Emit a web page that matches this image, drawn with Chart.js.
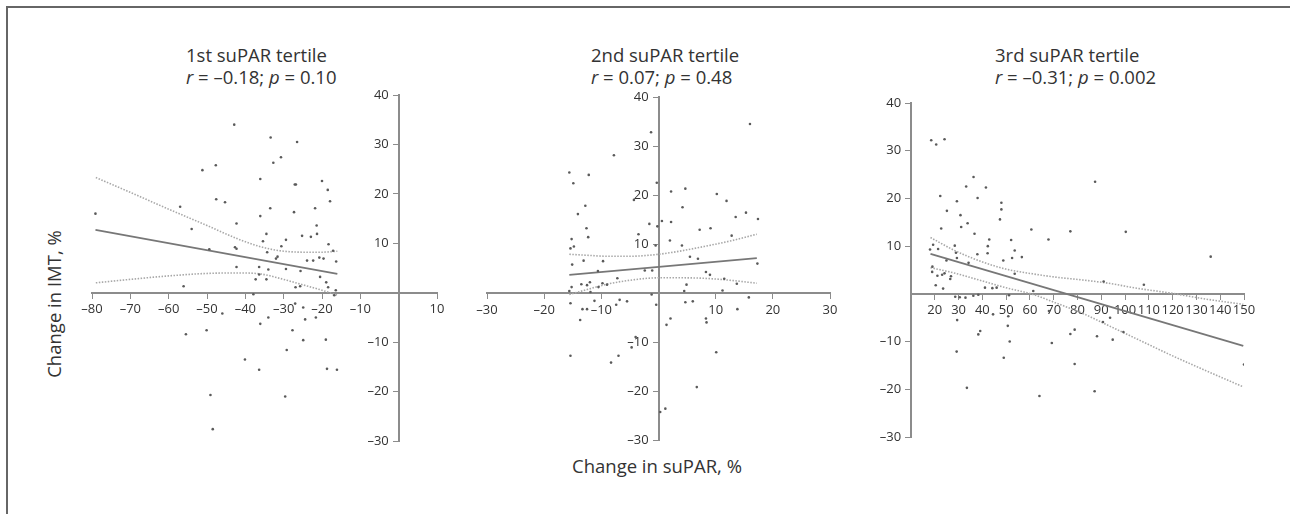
<!DOCTYPE html>
<html lang="en">
<head>
<meta charset="UTF-8">
<title>Change in IMT vs change in suPAR by tertile</title>
<script src="https://cdn.jsdelivr.net/npm/chart.js"></script>
<style>
  body { margin: 0; width: 1290px; height: 514px; background: #fff; position: relative; overflow: hidden;
         font-family: 'Open Sans', sans-serif; color: #333; }
  .frame { position: absolute; left: 6px; top: 6px; width: 1300px; height: 520px;
           border-left: 2px solid #666; border-top: 2px solid #666; }
  canvas { position: absolute; }
  .title { position: absolute; font-size: 18.5px; line-height: 22px; white-space: nowrap; }
  .ylab { position: absolute; left: 53px; top: 304px; font-size: 18.5px; white-space: nowrap;
          transform: translate(-50%, -50%) rotate(-90deg); }
  .xlab { position: absolute; left: 657px; top: 465px; font-size: 18.5px; white-space: nowrap;
          transform: translate(-50%, -50%); }
</style>
</head>
<body>
<div class="frame"></div>

<div class="title" style="left:186px; top:44px">1st suPAR tertile<br><i>r</i> = –0.18; <i>p</i> = 0.10</div>
<div class="title" style="left:591px; top:44px">2nd suPAR tertile<br><i>r</i> = 0.07; <i>p</i> = 0.48</div>
<div class="title" style="left:995px; top:44px">3rd suPAR tertile<br><i>r</i> = –0.31; <i>p</i> = 0.002</div>
<div class="ylab">Change in IMT, %</div>
<div class="xlab">Change in suPAR, %</div>

<canvas id="c1" width="440" height="375" style="left:20px; top:85px"></canvas>
<canvas id="c2" width="400" height="375" style="left:460px; top:85px"></canvas>
<canvas id="c3" width="420" height="375" style="left:860px; top:85px"></canvas>

<script>
  // 1st tertile: change in suPAR (x) and change in IMT (y), %
  const t1X = [-79.1, -42.9, -33.4, -26.5, -30.7, -32.7, -47.7, -51.2, -36.1, -27.1, -26.8, -20.0, -18.5, -17.9,
    -47.6, -45.3, -57.0, -33.5, -27.3, -21.8, -36.1, -42.3, -54.0, -34.5, -21.4, -21.3, -25.2, -22.9, -29.4,
    -35.4, -30.6, -18.3, -42.7, -42.3, -49.4, -34.3, -31.6, -32.0, -23.9, -22.3, -20.7, -19.6, -17.1, -16.3,
    -42.3, -36.4, -34.0, -29.4, -25.6, -20.5, -37.3, -34.5, -36.4, -56.1, -26.9, -25.7, -18.9, -18.4, -16.4,
    -37.9, -16.8, -46.0, -27.0, -24.9, -34.0, -24.4, -21.6, -36.1, -55.5, -50.1, -27.7, -24.9, -19.0, -29.2,
    -40.1, -36.4, -18.7, -16.1, -49.1, -29.6, -48.5];
  const t1Y = [16.0, 34.0, 31.4, 30.5, 27.4, 26.3, 25.8, 24.8, 23.0, 21.9, 21.9, 22.6, 20.8, 18.5,
    18.9, 18.3, 17.4, 17.1, 16.3, 17.1, 15.5, 14.0, 12.9, 11.9, 13.6, 11.9, 11.5, 11.3, 10.7,
    10.4, 9.4, 9.8, 9.2, 8.9, 8.8, 8.2, 7.3, 6.9, 6.5, 6.5, 7.1, 6.9, 8.5, 6.3,
    5.2, 5.2, 4.7, 4.8, 4.4, 3.2, 2.7, 2.7, 3.7, 1.3, 1.1, 1.3, 2.1, 1.1, 0.5,
    -0.3, -0.5, -4.2, -2.2, -3.0, -5.0, -5.4, -5.0, -6.3, -8.4, -7.6, -7.6, -9.6, -9.5, -11.6,
    -13.5, -15.6, -15.4, -15.6, -20.7, -21.0, -27.6];
  const t1FitX = [-79.1, -16];
  const t1Fit = [12.7, 3.8];
  const t1BandX = [-79, -70, -60, -50, -42, -36, -31, -25, -20, -16];
  const t1Upper = [23.3, 20.3, 16.9, 13.6, 10.9, 9.3, 8.5, 8.2, 8.2, 8.4];
  const t1Lower = [2.0, 2.7, 3.4, 3.9, 4.0, 3.8, 2.9, 1.6, 0.5, -0.5];

  // 2nd tertile
  const t2X = [16.0, -1.3, -7.8, -15.6, -12.2, -14.9, -0.3, 4.7, 2.2, 10.2, 11.9, -4.3, -12.8, 4.2, -14.1,
    15.3, 17.4, 13.5, 0.6, 2.2, -1.6, -0.2, -12.6, 7.2, 9.1, -3.5, 12.8, -15.2, -12.3, 2.0, -15.4, -14.8,
    4.1, -0.5, -13.1, -9.7, -15.1, 5.5, 6.9, 17.3, -10.6, -2.4, -1.1, 8.3, 9.0, -7.2, 11.5, 4.9, 13.7,
    -15.2, -13.5, -12.5, -12.0, -9.8, -10.5, -9.0, -15.6, 4.5, 11.2, -11.9, -1.2, -15.4, -11.2, -6.8, -5.5,
    -7.4, -0.4, 4.7, 6.0, 15.8, -13.3, -12.5, 13.8, -13.7, 2.1, 1.4, 8.3, 8.4, -4.0, -4.7, -15.4, -7.0,
    -8.3, 10.1, 6.7, 1.2, 0.3];
  const t2Y = [34.5, 32.8, 28.1, 24.6, 24.1, 22.4, 22.5, 21.3, 20.7, 20.2, 18.8, 19.0, 17.8, 17.5, 16.1,
    16.4, 15.1, 15.5, 14.7, 14.5, 14.1, 13.6, 13.2, 12.9, 13.2, 12.0, 11.7, 11.0, 11.4, 10.7, 9.1, 9.5,
    9.7, 9.7, 6.6, 6.5, 5.8, 7.4, 7.0, 6.0, 4.5, 4.6, 4.6, 4.3, 3.7, 3.0, 2.9, 1.7, 1.9,
    1.2, 1.8, 1.6, 2.2, 2.0, 1.2, 1.7, 0.4, 0.4, 0.5, 0.2, -0.3, -2.1, -1.6, -1.4, -1.7,
    -2.4, -2.4, -1.9, -1.7, -0.9, -3.3, -3.3, -3.3, -5.5, -5.2, -6.5, -5.2, -6.0, -9.0, -11.1, -12.8, -12.8,
    -14.2, -12.1, -19.2, -23.6, -24.3];
  const t2FitX = [-15.6, 17.2];
  const t2Fit = [3.7, 7.1];
  const t2BandX = [-15.6, -12.5, -9, -5, 0, 4, 8, 12.5, 17.2];
  const t2Upper = [7.9, 7.7, 7.5, 7.5, 7.9, 8.6, 9.5, 10.6, 12.0];
  const t2Lower = [-0.3, 0.7, 1.8, 2.6, 3.1, 3.1, 3.0, 2.6, 2.0];

  // 3rd tertile
  const t3X = [18.5, 20.6, 24.1, 36.3, 87.4, 33.2, 41.5, 22.3, 38.0, 48.0, 29.3, 48.0, 25.1, 30.8, 47.4,
    33.8, 31.1, 22.7, 60.6, 77.0, 100.3, 36.7, 42.9, 52.1, 67.8, 18.0, 19.3, 28.4, 42.3, 21.4, 28.9, 37.9,
    42.2, 53.6, 56.6, 52.5, 48.8, 29.3, 136.0, 24.9, 34.2, 19.0, 18.9, 21.1, 23.1, 24.1, 26.8, 26.5, 53.6,
    20.4, 23.5, 41.1, 44.2, 46.0, 91.0, 107.9, 61.4, 28.6, 30.5, 32.9, 38.3, 36.2, 51.2, 44.5, 50.9, 29.4,
    93.7, 90.7, 39.1, 38.3, 78.8, 77.0, 69.2, 51.5, 88.2, 94.8, 50.7, 29.2, 49.0, 78.8, 150.0, 33.5, 64.0,
    87.2, 68.0, 99.3];
  const t3Y = [32.2, 31.3, 32.4, 24.5, 23.5, 22.5, 22.3, 20.5, 20.1, 19.1, 19.4, 17.7, 17.4, 16.5, 15.6,
    14.8, 14.0, 13.7, 13.5, 13.1, 13.0, 12.6, 11.4, 11.3, 11.4, 9.3, 10.3, 10.1, 10.0, 9.4, 8.6, 8.3,
    8.5, 9.1, 7.7, 7.5, 7.0, 7.5, 7.8, 7.0, 6.5, 5.7, 4.6, 3.8, 4.0, 4.3, 3.7, 3.1, 4.2,
    1.8, 1.1, 1.3, 1.2, 1.3, 2.6, 1.9, 0.6, -0.6, -0.7, -0.8, -0.2, -0.4, -0.3, -4.3, -4.7, -5.5,
    -5.0, -5.9, -7.8, -8.5, -7.5, -8.4, -10.3, -10.0, -8.9, -9.6, -6.7, -12.1, -13.4, -14.7, -14.8, -19.7, -21.4,
    -20.4, -3.6, -8.0];
  const t3FitX = [18.2, 149.7];
  const t3Fit = [8.4, -10.9];
  const t3BandX = [18.2, 28.7, 40, 49.8, 61.1, 70.9, 82.2, 92, 106, 120, 134, 149.7];
  const t3Upper = [11.8, 9.0, 6.7, 5.2, 4.2, 3.5, 2.9, 2.3, 1.1, 0.1, -1.1, -2.2];
  const t3Lower = [5.5, 4.3, 2.7, 1.3, -0.1, -1.9, -4.1, -6.4, -9.7, -13.0, -16.1, -19.5];

  // axis ranges (x min/max, y min/max)
  const t1XRange = [-80, 10];
  const t2XRange = [-30, 30];
  const t3XRange = [10, 150];
  const yRange = [-30, 40];

  Chart.defaults.font.family = "'Open Sans', sans-serif";
  Chart.defaults.color = '#333';

  const axisGrey = '#8c8c8c';
  const pts = (xs, ys) => xs.map((x, i) => ({ x: x, y: ys[i] }));
  const fmt = v => v < 0 ? '–' + Math.abs(v) : String(v);
  // centred y axes draw their labels flush with the axis line, so pad them with a gap
  const yGap = '\u2002 ';

  function panel(id, o) {
    const band = {
      showLine: true, borderColor: '#a8a8a8', borderWidth: 1.6, borderDash: [1.5, 1.5],
      pointRadius: 0, cubicInterpolationMode: 'monotone'
    };
    new Chart(document.getElementById(id), {
      type: 'scatter',
      data: {
        datasets: [
          { data: pts(o.x, o.y), pointRadius: 1.3, backgroundColor: '#5a5a5a', borderWidth: 0 },
          { data: pts(o.fitX, o.fit), showLine: true, borderColor: '#777', borderWidth: 1.8, pointRadius: 0 },
          Object.assign({ data: pts(o.bandX, o.upper) }, band),
          Object.assign({ data: pts(o.bandX, o.lower) }, band)
        ]
      },
      options: {
        responsive: false,
        animation: false,
        events: [],
        layout: { padding: o.pad },
        plugins: { legend: { display: false }, tooltip: { enabled: false } },
        scales: {
          x: {
            type: 'linear', min: o.xRange[0], max: o.xRange[1], position: { y: 0 },
            ticks: {
              stepSize: 10, autoSkip: false, maxRotation: 0, minRotation: 0, padding: 4,
              font: { size: 13 },
              callback: v => (v === 0 || v === o.hideX) ? null : fmt(v)
            },
            grid: { drawOnChartArea: false, tickLength: 5, color: axisGrey },
            border: { color: axisGrey, width: 2 }
          },
          y: {
            type: 'linear', min: yRange[0], max: yRange[1], position: { x: o.yAt },
            ticks: {
              stepSize: 10, padding: 0, font: { size: 13 },
              callback: v => v === 0 ? null : fmt(v) + yGap
            },
            grid: { drawOnChartArea: false, tickLength: 5, color: axisGrey },
            border: { color: axisGrey, width: 2 }
          }
        }
      }
    });
  }

  panel('c1', { x: t1X, y: t1Y, fitX: t1FitX, fit: t1Fit, bandX: t1BandX, upper: t1Upper, lower: t1Lower,
    xRange: t1XRange, yAt: 0, hideX: null, pad: { left: 72, right: 23, top: 10, bottom: 19 } });
  panel('c2', { x: t2X, y: t2Y, fitX: t2FitX, fit: t2Fit, bandX: t2BandX, upper: t2Upper, lower: t2Lower,
    xRange: t2XRange, yAt: 0, hideX: null, pad: { left: 27, right: 30, top: 12, bottom: 20 } });
  panel('c3', { x: t3X, y: t3Y, fitX: t3FitX, fit: t3Fit, bandX: t3BandX, upper: t3Upper, lower: t3Lower,
    xRange: t3XRange, yAt: 10, hideX: 10, pad: { left: 51, right: 36, top: 18, bottom: 23 } });
</script>
</body>
</html>
